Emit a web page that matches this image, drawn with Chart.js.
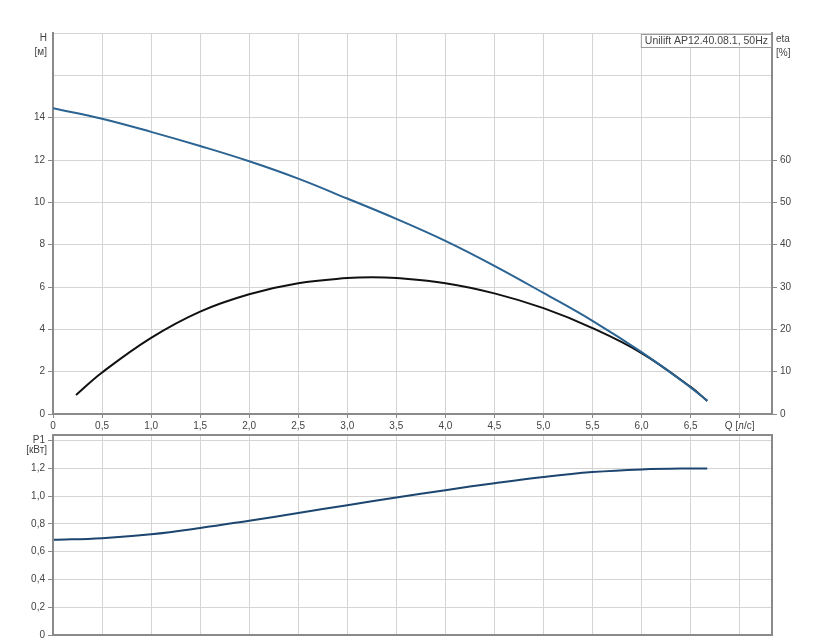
<!DOCTYPE html>
<html>
<head>
<meta charset="utf-8">
<script src="https://cdn.jsdelivr.net/npm/chart.js@4/dist/chart.umd.min.js"></script>
<style>
  body { margin: 0; background: #fff; }
  #box { position: relative; width: 814px; height: 644px; }
  canvas { position: absolute; left: 0; }
</style>
</head>
<body>
<div id="box">
  <canvas id="graficoCurva" width="814" height="432" style="top:0"></canvas>
  <canvas id="graficoPotencia" width="814" height="218" style="top:426px"></canvas>
</div>
<script>
// dados
const vazaoH = [0, 0.5, 1.0, 1.5, 2.0, 2.5, 3.0, 3.5, 4.0, 4.5, 5.0, 5.5, 6.0, 6.5, 6.67];
const altura = [14.45, 13.95, 13.33, 12.66, 11.94, 11.12, 10.18, 9.22, 8.18, 7.0, 5.72, 4.4, 2.92, 1.26, 0.62];

const vazaoEta = [0.235, 0.5, 1.0, 1.5, 2.0, 2.5, 3.0, 3.25, 3.5, 4.0, 4.5, 5.0, 5.5, 6.0, 6.5, 6.67];
const eta = [4.5, 9.8, 18.0, 24.2, 28.3, 30.9, 32.1, 32.3, 32.1, 30.9, 28.5, 25.0, 20.3, 14.4, 6.4, 3.1];

const vazaoP1 = [0, 0.5, 1.0, 1.5, 2.0, 2.5, 3.0, 3.5, 4.0, 4.5, 5.0, 5.5, 6.0, 6.5, 6.67];
const potencia = [0.685, 0.697, 0.725, 0.77, 0.823, 0.878, 0.935, 0.99, 1.043, 1.093, 1.138, 1.173, 1.192, 1.199, 1.198];

const ticksQ = [0, 0.5, 1, 1.5, 2, 2.5, 3, 3.5, 4, 4.5, 5, 5.5, 6, 6.5, 7];
const ticksH = [0, 2, 4, 6, 8, 10, 12, 14, 16, 18];
const ticksEta = [0, 10, 20, 30, 40, 50, 60, 70, 80, 90];
const ticksP1 = [0, 0.2, 0.4, 0.6, 0.8, 1.0, 1.2, 1.4];

const nomeBomba = "Unilift AP12.40.08.1, 50Hz";

const fonte = '"Liberation Sans", Arial, sans-serif';
const corGrade = "#d4d4d4";
const corBorda = "#8a8a8a";
const corTexto = "#444";

function pontos(xs, ys) {
  return xs.map((x, i) => ({ x: x, y: ys[i] }));
}

function virgula(v) {
  if (v === 0) return "0";
  return v.toFixed(1).replace(".", ",");
}

function fixaTicks(lista) {
  return (scale) => {
    scale.ticks = lista.map((v) => ({ value: v }));
  };
}

function linha(dados, cor, eixo) {
  return {
    data: dados,
    borderColor: cor,
    borderWidth: 2,
    pointRadius: 0,
    tension: 0.4,
    yAxisID: eixo,
  };
}

// desenha textos extras e moldura
const textosExtras = {
  id: "textosExtras",
  afterDraw(chart, args, opts) {
    const ctx = chart.ctx;
    const area = chart.chartArea;
    ctx.save();
    if (opts.moldura) {
      ctx.strokeStyle = corBorda;
      ctx.lineWidth = 2;
      ctx.strokeRect(area.left, area.top, area.right - area.left, area.bottom - area.top);
    }
    ctx.font = "10px " + fonte;
    ctx.fillStyle = corTexto;
    ctx.textBaseline = "middle";
    (opts.textos || []).forEach((t) => {
      ctx.textAlign = t.align;
      ctx.fillText(t.texto, t.x, t.y);
    });
    if (opts.legenda) {
      ctx.font = "10.5px " + fonte;
      const w = ctx.measureText(opts.legenda).width + 8;
      const x = area.right - w;
      ctx.fillStyle = "#fff";
      ctx.fillRect(x, area.top + 1, w, 14);
      ctx.strokeStyle = "#9a9a9a";
      ctx.lineWidth = 1;
      ctx.strokeRect(x + 0.5, area.top + 1.5, w - 1, 13);
      ctx.fillStyle = corTexto;
      ctx.textAlign = "left";
      ctx.fillText(opts.legenda, x + 4, area.top + 8);
    }
    ctx.restore();
  },
};

Chart.defaults.font.family = fonte;
Chart.defaults.font.size = 10;
Chart.defaults.color = corTexto;

const graficoCurva = new Chart(document.getElementById("graficoCurva"), {
  type: "line",
  data: {
    datasets: [
      linha(pontos(vazaoH, altura), "#2b6392", "y"),
      linha(pontos(vazaoEta, eta), "#111111", "y1"),
    ],
  },
  options: {
    responsive: false,
    animation: false,
    devicePixelRatio: 1,
    layout: { padding: { top: 33, left: 0, right: 0, bottom: 0 } },
    plugins: {
      legend: { display: false },
      tooltip: { enabled: false },
      textosExtras: {
        moldura: false,
        legenda: nomeBomba,
        textos: [
          { texto: "H", x: 47, y: 38, align: "right" },
          { texto: "[м]", x: 47, y: 52, align: "right" },
          { texto: "eta", x: 776, y: 39, align: "left" },
          { texto: "[%]", x: 776, y: 53, align: "left" },
        ],
      },
    },
    scales: {
      x: {
        type: "linear",
        min: 0,
        max: 7.33,
        afterBuildTicks: fixaTicks(ticksQ),
        afterFit: (s) => { s.height = 18; },
        grid: { color: corGrade, tickColor: corBorda, tickLength: 4 },
        border: { color: corBorda, width: 2 },
        ticks: {
          padding: 2,
          maxRotation: 0,
          autoSkip: false,
          callback: (v) => (v === 7 ? "Q [л/с]" : virgula(v)),
        },
      },
      y: {
        position: "left",
        min: 0,
        max: 18,
        afterBuildTicks: fixaTicks(ticksH),
        afterFit: (s) => { s.width = 53; },
        grid: {
          color: corGrade,
          tickLength: 5,
          tickColor: (c) => (c.tick && c.tick.value > 14 ? "rgba(0,0,0,0)" : corBorda),
        },
        border: { color: corBorda, width: 2 },
        ticks: { padding: 3, callback: (v) => (v > 14 ? "" : String(v)) },
      },
      y1: {
        position: "right",
        min: 0,
        max: 90,
        afterBuildTicks: fixaTicks(ticksEta),
        afterFit: (s) => { s.width = 42; },
        grid: {
          drawOnChartArea: false,
          tickLength: 5,
          tickColor: (c) => (c.tick && c.tick.value > 60 ? "rgba(0,0,0,0)" : corBorda),
        },
        border: { color: corBorda, width: 2 },
        ticks: { padding: 3, callback: (v) => (v > 60 ? "" : String(v)) },
      },
    },
  },
  plugins: [textosExtras],
});

const graficoPotencia = new Chart(document.getElementById("graficoPotencia"), {
  type: "line",
  data: {
    datasets: [linha(pontos(vazaoP1, potencia), "#1c4670", "y")],
  },
  options: {
    responsive: false,
    animation: false,
    devicePixelRatio: 1,
    layout: { padding: { top: 6, left: 0, right: 42, bottom: 0 } },
    plugins: {
      legend: { display: false },
      tooltip: { enabled: false },
      textosExtras: {
        moldura: true,
        textos: [{ texto: "[кВт]", x: 47, y: 24, align: "right" }],
      },
    },
    scales: {
      x: {
        type: "linear",
        min: 0,
        max: 7.33,
        afterBuildTicks: fixaTicks(ticksQ),
        afterFit: (s) => { s.height = 8; },
        grid: { color: corGrade, drawTicks: false },
        border: { color: corBorda, width: 2 },
        ticks: { display: false },
      },
      y: {
        position: "left",
        min: 0,
        max: 1.44,
        afterBuildTicks: fixaTicks(ticksP1),
        afterFit: (s) => { s.width = 53; },
        grid: { color: corGrade, tickLength: 5, tickColor: corBorda },
        border: { color: corBorda, width: 2 },
        ticks: { padding: 3, callback: (v) => (v > 1.3 ? "P1" : virgula(v)) },
      },
    },
  },
  plugins: [textosExtras],
});
</script>
</body>
</html>
